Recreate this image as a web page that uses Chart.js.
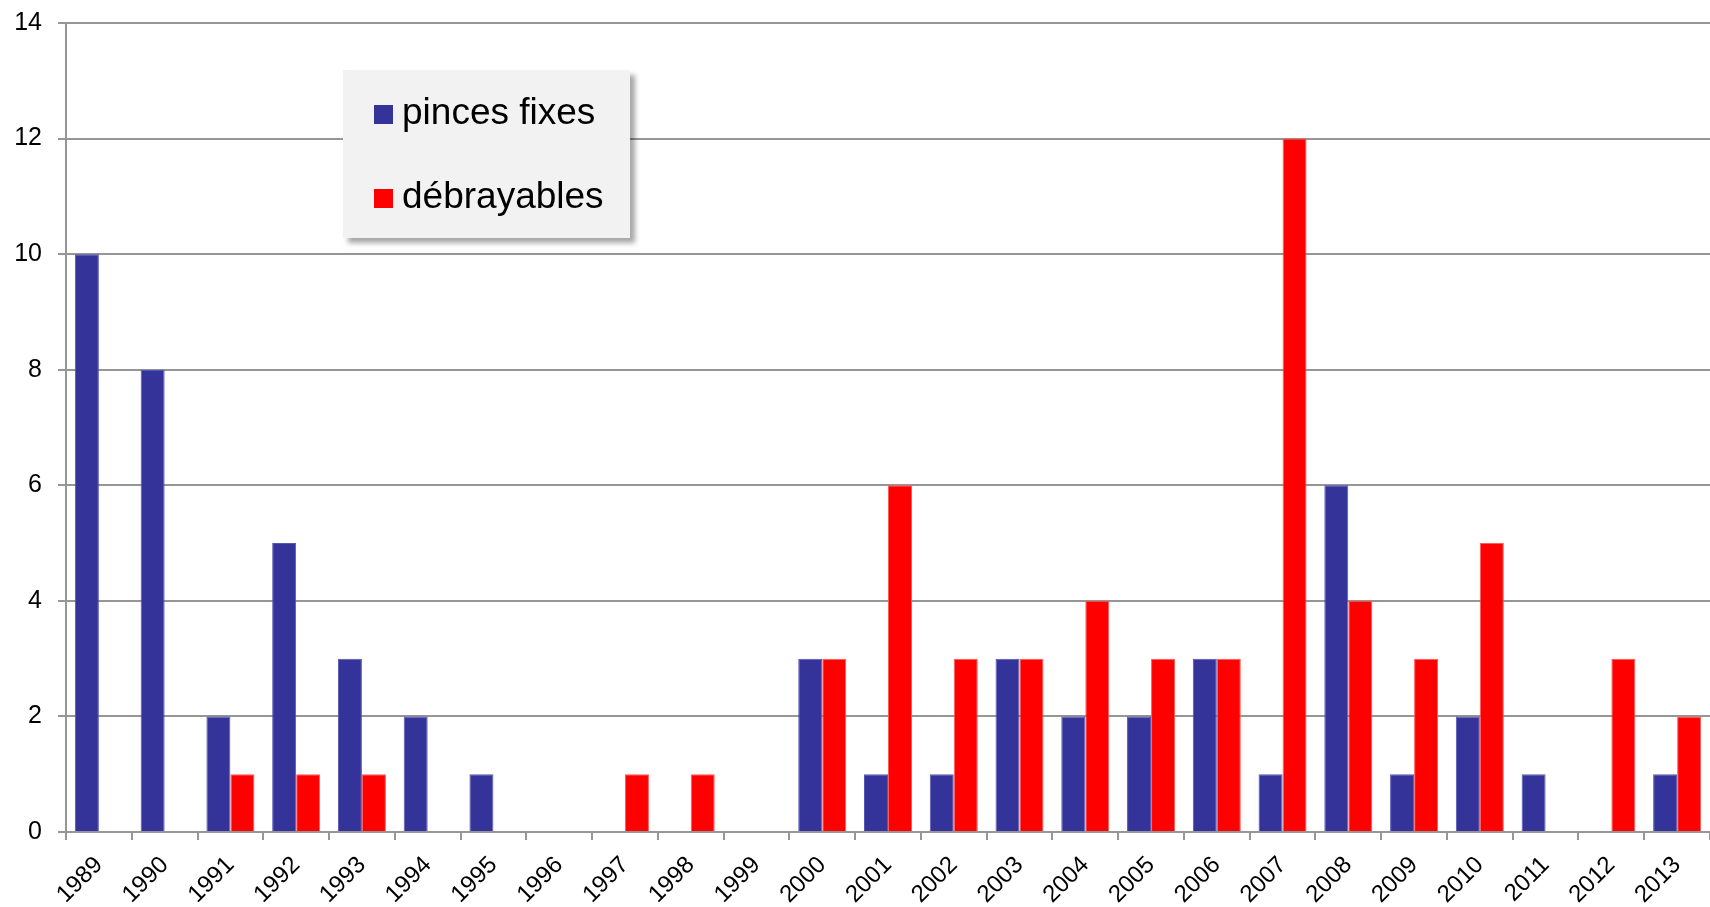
<!DOCTYPE html>
<html>
<head>
<meta charset="utf-8">
<script src="https://cdn.jsdelivr.net/npm/chart.js@4/dist/chart.umd.min.js"></script>
<style>
  html, body { margin: 0; padding: 0; background: #ffffff; overflow: hidden; }
  #wrap { position: relative; width: 1710px; height: 907px; }
  #c { display: block; }
  #legend {
    position: absolute; left: 343px; top: 70px; width: 287px; height: 168px;
    background: #f2f2f2; box-shadow: 5px 5px 5px rgba(0,0,0,0.35);
    font-family: "Liberation Sans", Arial, sans-serif; font-size: 37px; color: #000;
  }
  #legend .item { position: absolute; left: 31px; height: 40px; line-height: 40px; white-space: nowrap; }
  #legend .sw { display: inline-block; width: 19px; height: 19px; margin-right: 9px; vertical-align: 0px; }
</style>
</head>
<body>
<div id="wrap">
  <canvas id="c" width="1710" height="907"></canvas>
  <div id="legend"></div>
</div>
<script>
const years = ["1989","1990","1991","1992","1993","1994","1995","1996","1997","1998","1999","2000","2001","2002","2003","2004","2005","2006","2007","2008","2009","2010","2011","2012","2013"];
const pincesFixes = [10, 8, 2, 5, 3, 2, 1, 0, 0, 0, 0, 3, 1, 1, 3, 2, 2, 3, 1, 6, 1, 2, 1, 0, 1];
const debrayables = [0, 0, 1, 1, 1, 0, 0, 0, 1, 1, 0, 3, 6, 3, 3, 4, 3, 3, 12, 4, 3, 5, 0, 3, 2];
const seriesLabels = ["pinces fixes", "débrayables"];
const seriesColors = ["#333399", "#ff0000"];
const seriesBorders = ["#5656b4", "#ff5a5a"];
const yTicks = [0, 2, 4, 6, 8, 10, 12, 14];

const yFont = { family: "'Liberation Sans', Arial, sans-serif", size: 25 };
const xFont = { family: "'Liberation Sans', Arial, sans-serif", size: 24 };
const gridColor = "#969696";

const chart = new Chart(document.getElementById('c'), {
  type: 'bar',
  data: {
    labels: years,
    datasets: [
      { label: seriesLabels[0], data: pincesFixes, backgroundColor: seriesColors[0], borderColor: seriesBorders[0], borderWidth: 1, borderSkipped: 'start' },
      { label: seriesLabels[1], data: debrayables, backgroundColor: seriesColors[1], borderColor: seriesBorders[1], borderWidth: 1, borderSkipped: 'start' }
    ]
  },
  options: {
    responsive: false,
    animation: false,
    devicePixelRatio: 1,
    layout: { padding: { top: 23, right: 0, left: 0, bottom: 0 } },
    datasets: { bar: { categoryPercentage: 0.73, barPercentage: 1.0 } },
    plugins: { legend: { display: false }, tooltip: { enabled: false } },
    scales: {
      x: {
        grid: { display: true, drawOnChartArea: false, color: gridColor, lineWidth: 2, tickLength: 8, offset: true },
        border: { color: gridColor, width: 2 },
        ticks: { font: xFont, color: '#000', minRotation: 45, maxRotation: 45, padding: 11, autoSkip: false },
        afterFit: (s) => { s.height = 75; s.paddingLeft = 0; s.paddingRight = 0; }
      },
      y: {
        min: 0, max: 14,
        afterBuildTicks: (s) => { s.ticks = yTicks.map(v => ({ value: v })); },
        grid: { color: gridColor, lineWidth: 2, tickLength: 8 },
        border: { color: gridColor, width: 2 },
        ticks: { font: yFont, color: '#000', padding: 16 },
        afterFit: (s) => { s.width = 66; s.paddingTop = 0; s.paddingBottom = 0; }
      }
    }
  }
});

const leg = document.getElementById('legend');
chart.data.datasets.forEach((ds, i) => {
  const it = document.createElement('div');
  it.className = 'item';
  it.style.top = (i === 0 ? 22 : 106) + 'px';
  const sw = document.createElement('span');
  sw.className = 'sw';
  sw.style.background = ds.backgroundColor;
  it.appendChild(sw);
  it.appendChild(document.createTextNode(ds.label));
  leg.appendChild(it);
});
</script>
</body>
</html>
